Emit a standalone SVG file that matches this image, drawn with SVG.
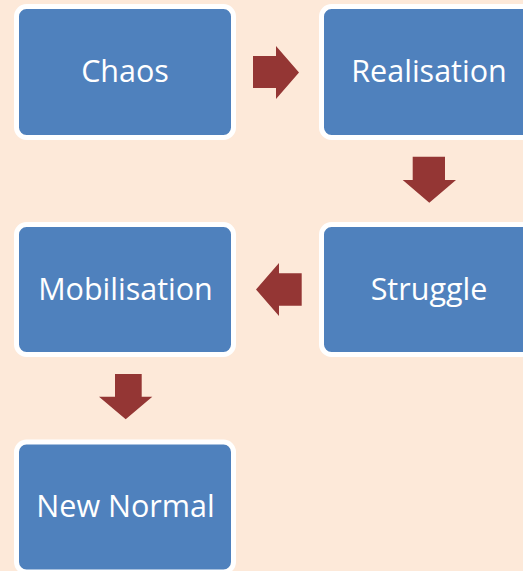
<svg xmlns="http://www.w3.org/2000/svg" width="523" height="571" viewBox="0 0 523 571">
<style>
.box{fill:#4F81BD;stroke:#FFFFFF;stroke-width:5}
.lbl{font-family:"Open Sans","Liberation Sans",sans-serif;font-size:30.5px;fill:#FFFFFF;text-anchor:middle}
.arr{fill:#943634}
</style>
<rect width="523" height="571" fill="#FDE9D9"/>
<g id="chaos"><rect class="box" x="16.5" y="6.5" width="217" height="131" rx="10"/><text class="lbl" x="125" y="82">Chaos</text></g>
<g id="realisation"><rect class="box" x="321.5" y="6.5" width="217" height="131" rx="10"/><text class="lbl" x="429" y="82">Realisation</text></g>
<g id="struggle"><rect class="box" x="321.5" y="224.5" width="217" height="130" rx="10"/><text class="lbl" x="429" y="300">Struggle</text></g>
<g id="mobilisation"><rect class="box" x="16.5" y="224.5" width="217" height="130" rx="10"/><text class="lbl" x="125.5" y="300">Mobilisation</text></g>
<g id="new-normal"><rect class="box" x="16.5" y="442" width="217" height="130" rx="10"/><text class="lbl" x="125.5" y="517">New Normal</text></g>
<g id="connectors">
<polygon class="arr" points="253,56 276,56 276,46 299,72.5 276,99 276,88 253,88"/>
<polygon class="arr" points="412.7,156.7 445,156.7 445,180 456,180 429.3,202.7 402.7,180 412.7,180"/>
<polygon class="arr" points="301.7,273.3 279,273.3 279,263 256,289.5 279,316 279,305.7 301.7,305.7"/>
<polygon class="arr" points="115,374 141.7,374 141.7,396.7 152.3,396.7 125.7,419.3 99,396.7 115,396.7"/>
</g>
</svg>
